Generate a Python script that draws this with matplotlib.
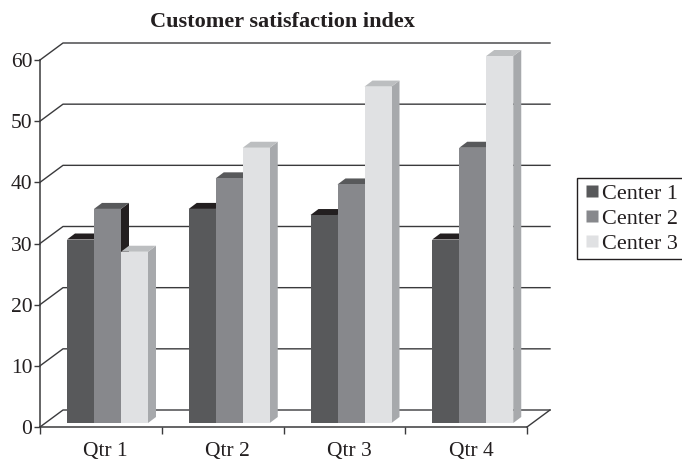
import numpy as np
from matplotlib import pyplot as plt
from matplotlib.lines import Line2D
from matplotlib.patches import Polygon

quarters = ["Qtr 1", "Qtr 2", "Qtr 3", "Qtr 4"]
center_1 = [30, 35, 34, 30]
center_2 = [35, 40, 39, 45]
center_3 = [28, 45, 55, 60]
series_names = ["Center 1", "Center 2", "Center 3"]
y_ticks = [0, 10, 20, 30, 40, 50, 60]

front_colors = ["#58595b", "#87888c", "#e0e1e3"]
top_colors = ["#231f20", "#58595b", "#bcbec0"]
side_colors = ["#2a2627", "#231f20", "#a7a9ac"]

W, H = 682, 461
LEFT, RIGHT, BOTTOM, TOP = 40, 527, 427, 60

plt.rcParams["font.family"] = "Liberation Serif"
fig = plt.figure(figsize=(W / 100, H / 100), dpi=100)
ax = fig.add_axes([LEFT / W, 1 - BOTTOM / H, (RIGHT - LEFT) / W, (BOTTOM - TOP) / H])
ax.set_xlim(0, 4)
ax.set_ylim(0, 60)
ax.patch.set_visible(False)

# pixel sizes turned into data units
px_x = 4 / (RIGHT - LEFT)
px_y = 60 / (BOTTOM - TOP)
wall_dx, wall_dy = 23 * px_x, 17 * px_y
bar_dx, bar_dy = 8 * px_x, 6 * px_y
bar_w = 27 * px_x
base = 4 * px_y
start = 27 * px_x

line = "#3a3a3c"
for v in y_ticks:
    ax.plot([0, wall_dx, 4 + wall_dx], [v, v + wall_dy, v + wall_dy],
            color=line, lw=1.0, clip_on=False, zorder=1)
ax.plot([4, 4 + wall_dx], [0, wall_dy], color=line, lw=1.0, clip_on=False, zorder=1)

for i, series in enumerate([center_1, center_2, center_3]):
    for q, val in enumerate(series):
        x0 = q + start + i * bar_w
        x1 = x0 + bar_w
        top = val + base
        ax.add_patch(Polygon([(x1, base), (x1 + bar_dx, base + bar_dy),
                              (x1 + bar_dx, top + bar_dy), (x1, top)],
                             fc=side_colors[i], ec="none", clip_on=False, zorder=3 + i))
        ax.add_patch(Polygon([(x0, top), (x0 + bar_dx, top + bar_dy),
                              (x1 + bar_dx, top + bar_dy), (x1, top)],
                             fc=top_colors[i], ec="none", clip_on=False, zorder=3 + i))
        ax.bar(x0, val, width=bar_w, bottom=base, align="edge",
               color=front_colors[i], clip_on=False, zorder=3 + i + 0.5)

for name in ["top", "right"]:
    ax.spines[name].set_visible(False)
for name in ["left", "bottom"]:
    ax.spines[name].set_color(line)
    ax.spines[name].set_linewidth(1.1)
    ax.spines[name].set_zorder(8)

ax.set_yticks(y_ticks)
ax.set_xticks(np.arange(5))
ax.set_xticklabels([])
ax.set_xticks(np.arange(4) + 0.54, minor=True)
ax.set_xticklabels(quarters, minor=True)
ax.tick_params(axis="x", which="minor", length=0, pad=11, labelsize=15.5, labelcolor="#231f20")
ax.tick_params(axis="x", which="major", length=5, width=1, color=line, direction="out")
ax.tick_params(axis="y", length=4, width=1, color=line, pad=1.5, labelsize=15.5, labelcolor="#231f20")

fig.text(282.5 / W, 1 - 22 / H, "Customer satisfaction index", ha="center", va="center",
         fontsize=16, fontweight="bold", color="#231f20")

handles = [Line2D([], [], ls="none", marker="s", ms=9, mfc=c, mec="none") for c in front_colors]
leg = fig.legend(handles, series_names, loc="upper right", numpoints=1,
                 bbox_to_anchor=(684 / W, 1 - 177.5 / H), bbox_transform=fig.transFigure,
                 fontsize=16, frameon=True, fancybox=False, edgecolor="#231f20", framealpha=1,
                 handlelength=0.82, handletextpad=0.08, labelspacing=0.2,
                 borderpad=0.25, borderaxespad=0, labelcolor="#231f20")
leg.get_frame().set_linewidth(1.0)

fig.savefig("out.png", dpi=100)
plt.close(fig)
